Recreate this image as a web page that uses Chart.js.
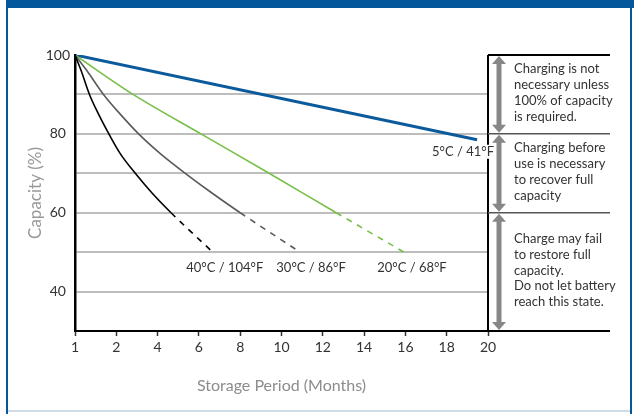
<!DOCTYPE html>
<html>
<head>
<meta charset="utf-8">
<script src="https://cdn.jsdelivr.net/npm/chart.js@4.4.1/dist/chart.umd.min.js"></script>
<style>
  html, body { margin: 0; padding: 0; background: #fff; }
  #chart { display: block; }
</style>
</head>
<body>
<canvas id="chart" width="634" height="414"></canvas>
<script>
// tick labels (the x axis is evenly spaced but 1 -> 2 is a single month)
const xTickLabels = ['1', '2', '4', '6', '8', '10', '12', '14', '16', '18', '20'];
const yTickLabels = [40, 60, 80, 100];

// capacity levels
const capacityFine = [100, 96, 90, 85, 80, 75, 70, 65, 60, 50];
const months40C = [1, 1.15, 1.35, 1.57, 1.82, 2.19, 2.92, 3.73, 4.65, 6.67];
const months30C = [1, 1.29, 1.69, 2.19, 3.08, 4.13, 5.34, 6.63, 8.0, 10.9];
const capacity20C = [100, 90, 80, 70, 60, 50];
const months20C = [1, 2.81, 6.1, 9.4, 12.65, 15.93];
const months5C = [1, 19.47];
const capacity5C = [100, 78.5];

const seriesLabels = ['40°C / 104°F', '30°C / 86°F', '20°C / 68°F', '5°C / 41°F'];

// zones on the right hand side
const zoneBounds = [100, 80, 60, 30];
const zoneText = [
    ['Charging is not', 'necessary unless', '100% of capacity', 'is required.'],
    ['Charging before', 'use is necessary', 'to recover full', 'capacity'],
    ['Charge may fail', 'to restore full', 'capacity.', 'Do not let battery', 'reach this state.']
];

const FONT = 'Lato, "Noto Sans", sans-serif';

// month -> position on the axis
function monthPos(m) {
    return m <= 2 ? m - 1 : m / 2;
}

function points(months, values) {
    return months.map((m, i) => ({ x: monthPos(m), y: values[i] }));
}

const dashAfter60 = {
    borderDash: c => c.p0.parsed.y <= 60 ? [6, 6] : undefined
};

// label offsets from the last point of each line
const labelOffsets = [[12, 16], [11, 16], [8, 16], [-14, 12]];

const decorations = {
    id: 'decorations',
    beforeDraw(chart) {
        const c = chart.ctx;
        c.save();
        c.fillStyle = '#fff';
        c.fillRect(0, 0, chart.width, chart.height);
        // frame
        c.fillStyle = '#03579a';
        c.fillRect(6, 0, chart.width - 6, 8);
        c.fillRect(6, 0, 2, chart.height);
        c.fillRect(630, 0, 2, chart.height);
        c.fillStyle = '#cfdbe7';
        c.fillRect(8, 410, 622, 2);
        c.restore();
    },
    afterDraw(chart) {
        const c = chart.ctx;
        const area = chart.chartArea;
        const y = chart.scales.y;
        c.save();

        // right border + zone lines
        c.strokeStyle = '#000';
        c.lineWidth = 2;
        c.beginPath();
        c.moveTo(area.right, area.top);
        c.lineTo(area.right, area.bottom);
        c.stroke();
        zoneBounds.forEach((v, i) => {
            const py = y.getPixelForValue(v);
            const outer = i === 0 || i === zoneBounds.length - 1;
            c.strokeStyle = outer ? '#000' : '#555';
            c.lineWidth = outer ? 2 : 1.5;
            c.beginPath();
            c.moveTo(area.right, py);
            c.lineTo(area.right + 122, py);
            c.stroke();
        });

        // double headed arrows + text
        const ax = area.right + 11;
        for (let i = 0; i < zoneText.length; i++) {
            const top = y.getPixelForValue(zoneBounds[i]) + 1;
            const bot = y.getPixelForValue(zoneBounds[i + 1]) - 1;
            c.fillStyle = '#878787';
            c.fillRect(ax - 2.5, top + 7, 5, bot - top - 14);
            c.beginPath();
            c.moveTo(ax, top);
            c.lineTo(ax + 7, top + 8);
            c.lineTo(ax - 7, top + 8);
            c.closePath();
            c.fill();
            c.beginPath();
            c.moveTo(ax, bot);
            c.lineTo(ax + 7, bot - 8);
            c.lineTo(ax - 7, bot - 8);
            c.closePath();
            c.fill();

            const lines = zoneText[i];
            const lh = 15.8;
            const mid = (top + bot) / 2 - 1.5;
            c.fillStyle = '#333';
            c.font = '13px ' + FONT;
            c.textAlign = 'left';
            c.textBaseline = 'middle';
            lines.forEach((t, k) => {
                c.fillText(t, area.right + 26, mid + (k - (lines.length - 1) / 2) * lh);
            });
        }

        // curve labels
        c.font = '13px ' + FONT;
        c.textAlign = 'center';
        c.textBaseline = 'middle';
        chart.data.datasets.forEach((ds, i) => {
            const meta = chart.getDatasetMeta(i);
            const last = meta.data[meta.data.length - 1];
            const tx = last.x + labelOffsets[i][0];
            const ty = last.y + labelOffsets[i][1];
            const w = c.measureText(ds.label).width;
            c.fillStyle = '#fff';
            c.fillRect(tx - w / 2 - 1, ty - 7, w + 2, 14);
            c.fillStyle = '#333';
            c.fillText(ds.label, tx, ty);
        });
        c.restore();
    }
};

new Chart(document.getElementById('chart'), {
    type: 'line',
    data: {
        datasets: [{
            label: seriesLabels[0],
            data: points(months40C, capacityFine),
            borderColor: '#000',
            borderWidth: 1.6,
            segment: dashAfter60
        }, {
            label: seriesLabels[1],
            data: points(months30C, capacityFine),
            borderColor: '#5a5a5a',
            borderWidth: 1.6,
            segment: dashAfter60
        }, {
            label: seriesLabels[2],
            data: points(months20C, capacity20C),
            borderColor: '#77bf45',
            borderWidth: 1.6,
            segment: dashAfter60
        }, {
            label: seriesLabels[3],
            data: points(months5C, capacity5C),
            borderColor: '#0b5a9c',
            borderWidth: 3
        }]
    },
    options: {
        responsive: false,
        animation: false,
        events: [],
        cubicInterpolationMode: 'monotone',
        elements: { point: { radius: 0 } },
        layout: { padding: { left: 10, right: 146, top: 55, bottom: 0 } },
        plugins: {
            legend: { display: false },
            tooltip: { enabled: false }
        },
        scales: {
            x: {
                type: 'linear',
                min: 0,
                max: 10,
                afterFit: s => { s.height = 83; },
                ticks: {
                    stepSize: 1,
                    padding: 3,
                    color: '#333',
                    font: { family: FONT, size: 14 },
                    callback: v => xTickLabels[v]
                },
                grid: {
                    drawOnChartArea: false,
                    drawTicks: true,
                    tickLength: 5,
                    tickColor: '#333',
                    tickWidth: 1.5
                },
                border: { display: true, color: '#000', width: 2 },
                title: {
                    display: true,
                    text: 'Storage Period (Months)',
                    color: '#8c8c8c',
                    font: { family: FONT, size: 16 },
                    padding: { top: 0, bottom: 19 }
                }
            },
            y: {
                min: 30,
                max: 100,
                afterFit: s => { s.width = 65; },
                ticks: {
                    stepSize: 10,
                    padding: 5,
                    crossAlign: 'center',
                    color: '#333',
                    font: { family: FONT, size: 14 },
                    callback: v => yTickLabels.includes(v) ? v : ''
                },
                grid: {
                    drawTicks: false,
                    lineWidth: 2,
                    color: c => (c.tick && (c.tick.value === 100 || c.tick.value === 30)) ? 'rgba(0,0,0,0)' : '#bdbdbd'
                },
                border: { display: true, color: '#000', width: 2.5 },
                title: {
                    display: true,
                    text: 'Capacity (%)',
                    color: '#999',
                    font: { family: FONT, size: 17 },
                    padding: { top: 15, bottom: 0 }
                }
            }
        }
    },
    plugins: [decorations]
});
</script>
</body>
</html>
